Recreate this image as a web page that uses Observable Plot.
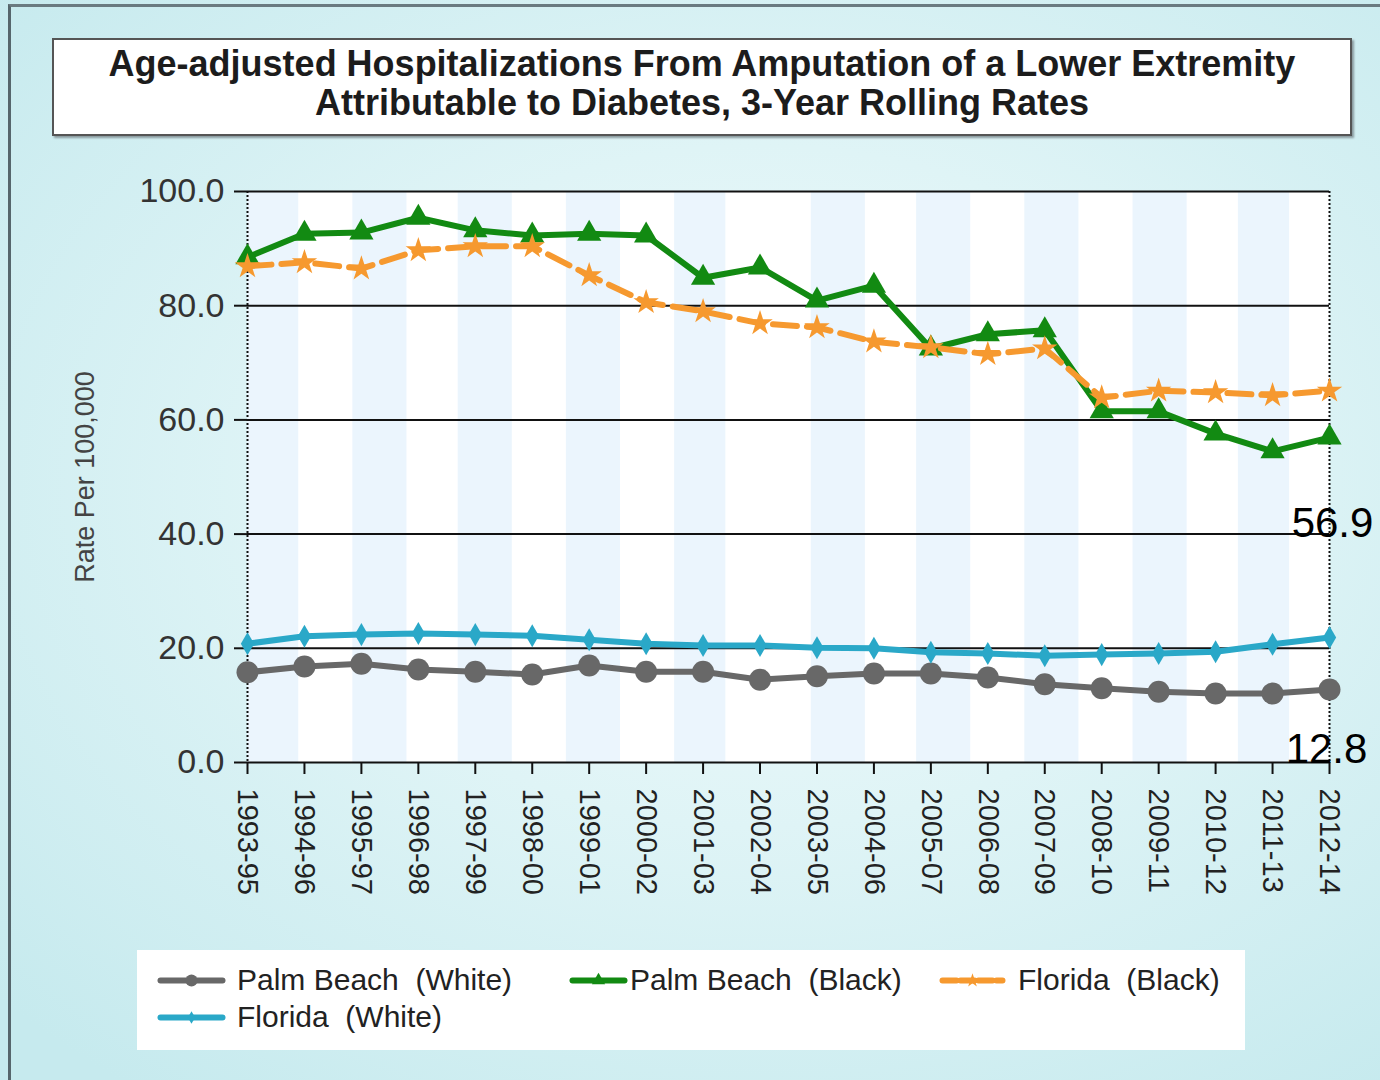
<!DOCTYPE html>
<html>
<head>
<meta charset="utf-8">
<script src="https://cdn.jsdelivr.net/npm/d3@7"></script>
<script src="https://cdn.jsdelivr.net/npm/@observablehq/plot@0.6"></script>
<style>
  html, body { margin:0; padding:0; }
  body { width:1380px; height:1080px; overflow:hidden; font-family:"Liberation Sans", Arial, sans-serif; }
  #page { position:relative; width:1380px; height:1080px;
    background: radial-gradient(ellipse 75% 70% at 55% 45%, #f2fbfc 0%, #dff4f6 45%, #c6eaee 100%); }
  #edge { position:absolute; left:8px; top:4px; right:0; bottom:0; border-left:3px solid #56666c; border-top:3px solid #6a7a80; pointer-events:none; }
  #title { position:absolute; left:52px; top:38px; width:1296px; height:90px; background:#fff;
    border:2px solid #555; box-shadow:2px 2px 2px #8a9a9e; text-align:center; font-weight:bold;
    font-size:36px; line-height:39px; color:#1c1c1c; padding-top:4px; box-sizing:content-box; }
  #chart { position:absolute; left:0; top:0; }
  #legend { position:absolute; left:137px; top:950px; width:1108px; height:100px; background:#fff; }
  .sw { position:absolute; }
  .lt { position:absolute; font-size:30px; color:#222; white-space:pre; line-height:34px; }
</style>
</head>
<body>
<div id="page">
  <div id="title">Age-adjusted Hospitalizations From Amputation of a Lower Extremity<br>Attributable to Diabetes, 3-Year Rolling Rates</div>
  <div id="chart"></div>
  <div id="legend"></div>
  <div id="edge"></div>
</div>
<script>
const periods = ["1993-95","1994-96","1995-97","1996-98","1997-99","1998-00","1999-01","2000-02","2001-03","2002-04",
  "2003-05","2004-06","2005-07","2006-08","2007-09","2008-10","2009-11","2010-12","2011-13","2012-14"];

const palmBeachWhite = [15.8,16.8,17.3,16.3,15.9,15.4,17.0,15.9,15.9,14.5,15.1,15.6,15.6,14.9,13.7,13.0,12.4,12.1,12.1,12.8];
const palmBeachBlack = [88.5,92.6,92.8,95.4,93.2,92.3,92.6,92.3,84.9,86.7,80.9,83.5,72.5,75.0,75.7,61.5,61.5,57.6,54.5,56.9];
const floridaBlack   = [86.9,87.6,86.5,89.7,90.4,90.4,85.3,80.6,79.0,76.9,76.2,73.7,72.7,71.5,72.5,63.9,65.1,64.8,64.3,65.1];
const floridaWhite   = [20.8,22.1,22.4,22.6,22.4,22.2,21.5,20.8,20.5,20.5,20.1,20.0,19.3,19.1,18.7,18.9,19.1,19.4,20.7,21.9];

const seriesNames = ["Palm Beach  (White)","Palm Beach  (Black)","Florida  (Black)","Florida  (White)"];
const yTicks = [0,20,40,60,80,100];
const stripeBands = [[0,0.9],[1.85,2.8],[3.7,4.65],[5.6,6.55],[7.5,8.4],[9.9,10.85],[11.75,12.7],[13.65,14.6],[15.55,16.5],[17.4,18.3]];
const annotations = [{i:19, v:56.9, label:"56.9"}, {i:19, v:12.8, label:"12.8"}];

const styles = {
  "Palm Beach  (White)": {color:"#686868", symbol:"circle", r:11, dash:null},
  "Palm Beach  (Black)": {color:"#128a12", symbol:"triangle", r:9, dash:null},
  "Florida  (Black)":    {color:"#f6992f", symbol:"star", r:8, dash:"24,10"},
  "Florida  (White)":    {color:"#2aa8c8", symbol:"diamond", r:7, dash:null}
};
const valuesBySeries = [palmBeachWhite, palmBeachBlack, floridaBlack, floridaWhite];
const data = seriesNames.flatMap((s, k) => valuesBySeries[k].map((v, i) => ({series:s, i, v})));

const seriesMarks = seriesNames.flatMap(s => {
  const st = styles[s];
  const d = data.filter(e => e.series === s);
  return [
    Plot.line(d, {x:"i", y:"v", stroke:st.color, strokeWidth:6, strokeDasharray:st.dash, strokeLinejoin:"round"}),
    Plot.dot(d, {x:"i", y:"v", symbol:()=>st.symbol, r:st.r, fill:st.color, stroke:"none"})
  ];
});

const chart = Plot.plot({
  width:1380, height:940,
  marginTop:191, marginBottom:178, marginLeft:247, marginRight:51,
  style:{background:"transparent", fontFamily:"Liberation Sans, Arial, sans-serif", overflow:"visible"},
  x:{domain:[0,19], axis:null},
  y:{domain:[0,100], axis:null},
  symbol:{type:"identity"},
  marks:[
    Plot.frame({fill:"white", stroke:"none"}),
    Plot.rect(stripeBands, {x1:d=>d[0], x2:d=>d[1], fill:"#ebf5fd"}),
    Plot.ruleY(yTicks, {stroke:"#111", strokeWidth:2}),
    Plot.ruleX([0,19], {stroke:"#111", strokeWidth:2, strokeDasharray:"2,2"}),
    Plot.axisY({ticks:yTicks, tickFormat:d=>d.toFixed(1), tickSize:13, tickPadding:10, fontSize:34, color:"#333", stroke:"#111", strokeWidth:2, label:null}),
    Plot.axisX({ticks:d3.range(periods.length), tickFormat:i=>periods[i], tickSize:12, tickPadding:14, tickRotate:90, fontSize:29, color:"#222", stroke:"#111", strokeWidth:2, label:null}),
    Plot.text(["Rate Per 100,000"], {frameAnchor:"left", textAnchor:"middle", rotate:-90, dx:-162, fontSize:27, fill:"#444"}),
    ...seriesMarks,
    Plot.text([annotations[0]], {x:"i", y:"v", text:"label", dx:3, dy:86, fontSize:42, fill:"#000"}),
    Plot.text([annotations[1]], {x:"i", y:"v", text:"label", dx:-3, dy:60, fontSize:42, fill:"#000"})
  ]
});
document.getElementById("chart").appendChild(chart);

// legend
const legendItems = [
  {name:seriesNames[0], sx:23, sw:62, tx:100, cy:30},
  {name:seriesNames[1], sx:435, sw:52, tx:493, cy:30},
  {name:seriesNames[2], sx:805, sw:60, tx:881, cy:30},
  {name:seriesNames[3], sx:23, sw:62, tx:100, cy:67}
];
const legend = document.getElementById("legend");
for (const it of legendItems) {
  const st = styles[it.name];
  const sw = Plot.plot({
    width:it.sw, height:20, margin:0, x:{domain:[0,2], axis:null}, y:{domain:[0,1], axis:null},
    style:{background:"transparent", overflow:"visible"},
    marks:[
      Plot.line([{x:0,y:0.5},{x:2,y:0.5}], {x:"x", y:"y", stroke:st.color, strokeWidth:6, strokeDasharray:st.dash ? "14,4" : null}),
      Plot.dot([{x:1,y:0.5}], {x:"x", y:"y", symbol:()=>st.symbol, r:st.r*0.55, fill:st.color})
    ]
  });
  sw.classList.add("sw");
  sw.style.left = it.sx + "px";
  sw.style.top = (it.cy - 10) + "px";
  legend.appendChild(sw);
  const span = document.createElement("div");
  span.className = "lt";
  span.style.left = it.tx + "px";
  span.style.top = (it.cy - 17) + "px";
  span.textContent = it.name;
  legend.appendChild(span);
}
</script>
</body>
</html>
